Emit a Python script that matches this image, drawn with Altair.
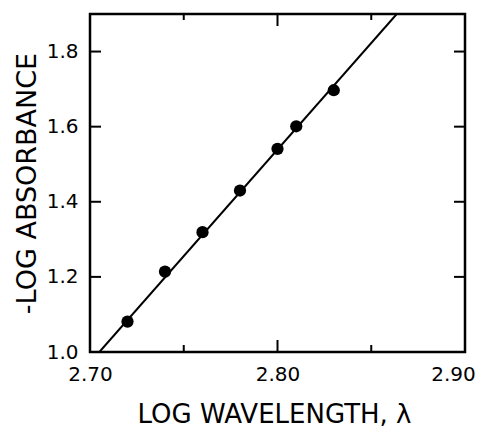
import altair as alt
import pandas as pd

# Data
x_points = [2.72, 2.74, 2.76, 2.78, 2.80, 2.81, 2.83]
y_points = [1.081, 1.214, 1.319, 1.430, 1.541, 1.601, 1.697]

# fitted line endpoints (meets the frame)
x_line = [2.705, 2.8636]
y_line = [1.0, 1.9]

# tick positions and labels
x_label_values = [2.70, 2.80, 2.90]
x_major_ticks = [2.80]
x_minor_ticks = [2.75, 2.85]
y_tick_values = [1.0, 1.2, 1.4, 1.6, 1.8]
y_inner_ticks = [1.2, 1.4, 1.6, 1.8]

W, H = 375, 338
FONT = "DejaVu Sans"

pts = pd.DataFrame({"x": x_points, "y": y_points})
line_df = pd.DataFrame({"x": x_line, "y": y_line})
xmaj = pd.DataFrame({"x": x_major_ticks})
xmin = pd.DataFrame({"x": x_minor_ticks})
yt = pd.DataFrame({"y": y_inner_ticks})

xscale = alt.Scale(domain=[2.70, 2.90], nice=False, zero=False)
yscale = alt.Scale(domain=[1.0, 1.9], nice=False, zero=False)

xaxis = alt.Axis(
    values=x_label_values, format=".2f", ticks=False, tickSize=0, domain=False,
    grid=False, labelPadding=12, labelFontSize=20, labelFont=FONT,
    labelColor="black", labelFlush=False,
    labelOffset={"condition": {"test": "datum.value > 2.85", "value": -12}, "value": 0},
    title="LOG WAVELENGTH, \u03bb", titleFont=FONT, titleFontSize=26,
    titleFontWeight="normal", titleColor="black", titleX=184, titleY=70,
    titleBaseline="alphabetic", titleAlign="center",
)
yaxis = alt.Axis(
    values=y_tick_values, format=".1f", ticks=False, tickSize=0, domain=False,
    grid=False, labelPadding=12, labelFontSize=20, labelFont=FONT,
    labelColor="black", labelFlush=False,
    title="-LOG ABSORBANCE", titleFont=FONT, titleFontSize=27,
    titleFontWeight="normal", titleColor="black", titleAngle=-90,
    titleX=-63, titleY=169, titleAlign="center", titleBaseline="middle",
)

X = lambda: alt.X("x:Q", scale=xscale, axis=xaxis)
Y = lambda: alt.Y("y:Q", scale=yscale, axis=yaxis)

line = alt.Chart(line_df).mark_line(color="black", strokeWidth=2, clip=True).encode(x=X(), y=Y())
points = alt.Chart(pts).mark_circle(color="black", opacity=1, size=150).encode(x=X(), y=Y())

tw = 2
bottom_major = alt.Chart(xmaj).mark_rule(color="black", strokeWidth=tw).encode(
    x=X(), y=alt.value(H), y2=alt.value(H - 12))
top_major = alt.Chart(xmaj).mark_rule(color="black", strokeWidth=tw).encode(
    x=X(), y=alt.value(0), y2=alt.value(12))
bottom_minor = alt.Chart(xmin).mark_rule(color="black", strokeWidth=tw).encode(
    x=X(), y=alt.value(H), y2=alt.value(H - 7))
top_minor = alt.Chart(xmin).mark_rule(color="black", strokeWidth=tw).encode(
    x=X(), y=alt.value(0), y2=alt.value(6))
left_ticks = alt.Chart(yt).mark_rule(color="black", strokeWidth=tw).encode(
    y=Y(), x=alt.value(0), x2=alt.value(11))
right_ticks = alt.Chart(yt).mark_rule(color="black", strokeWidth=tw).encode(
    y=Y(), x=alt.value(W - 11), x2=alt.value(W))

chart = alt.layer(
    bottom_major, bottom_minor, top_major, top_minor, left_ticks, right_ticks,
    line, points,
).properties(
    width=W, height=H,
    autosize=alt.AutoSizeParams(type="none"),
    padding={"left": 90, "top": 14, "right": 14, "bottom": 75},
    background="white",
).configure_view(
    stroke="black", strokeWidth=2.5
)

chart.save("out.html", embed_options={"renderer": "svg", "actions": False})
